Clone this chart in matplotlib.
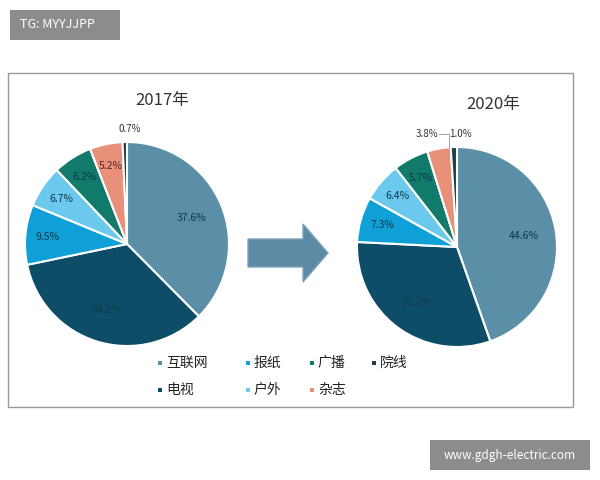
import numpy as np
import matplotlib.pyplot as plt
from matplotlib.patches import Rectangle, FancyArrow

plt.rcParams['font.family'] = ['Noto Sans CJK SC', 'DejaVu Sans']

categories = ['互联网', '电视', '报纸', '户外', '广播', '杂志', '院线']
share_2017 = [37.6, 34.2, 9.5, 6.7, 6.2, 5.2, 0.7]
share_2020 = [44.6, 31.2, 7.3, 6.4, 5.7, 3.8, 1.0]
colors = ['#5b8fa8', '#0e4d68', '#0ea0d6', '#6cc9ee', '#117a6a', '#e8907a', '#1d3d4a']

W, H = 600, 480
fig = plt.figure(figsize=(6, 4.8), dpi=100)
fig.patch.set_facecolor('white')

def fx(x): return x / W
def fy(y): return 1 - y / H

# frame
fig.patches.append(Rectangle((fx(8), fy(407)), fx(565), (407 - 73) / H, transform=fig.transFigure,
                             fill=False, ec='#999999', lw=1))

def draw_pie(cx, cy, r, vals, title, tx, ty, late_label):
    ax = fig.add_axes([fx(cx - r), fy(cy + r), 2 * r / W, 2 * r / H])
    ax.pie(vals, colors=colors, startangle=90, counterclock=False,
           wedgeprops=dict(edgecolor='white', linewidth=1.5))
    ax.set_aspect('auto')
    ax.set_xlim(-1, 1)
    ax.set_ylim(-1, 1)
    tot = sum(vals)
    ang = 90
    for i, v in enumerate(vals):
        mid = np.deg2rad(ang - v / tot * 360 / 2)
        ang -= v / tot * 360
        lab = f'{v:.1f}%'
        if i == 6:
            ax.text(0.03, 1.1, lab, ha='center', fontsize=7, color='#333333')
        elif i == 5 and late_label:
            ax.text(-0.3, 1.1, lab, ha='center', fontsize=7, color='#333333')
            ax.plot([-0.18, -0.08, -0.08], [1.13, 1.13, 0.99], color='#999999', lw=0.6, clip_on=False)
        else:
            d = 0.68 if i < 2 else 0.78
            c = '#0b3a50' if i != 5 else '#5a2a20'
            ax.text(d * np.cos(mid), d * np.sin(mid), lab, ha='center', va='center',
                    fontsize=7.5, color=c)
    fig.text(fx(tx), fy(ty), title, ha='center', va='center', fontsize=12, color='#333333')

draw_pie(127, 244, 102, share_2017, '2017年', 162, 100, False)
draw_pie(457, 247, 100, share_2020, '2020年', 493, 105, True)

# arrow
fig.patches.append(FancyArrow(fx(248), fy(253), fx(55), 0, width=28 / H, head_width=58 / H,
                              head_length=fx(25), length_includes_head=False,
                              transform=fig.transFigure, fc='#5d8aa5', ec='#7fa3b8'))

# legend
pos = [(158, 363), (158, 390), (246, 363), (246, 390), (310, 363), (310, 390), (372, 363)]
for (x, y), i in zip(pos, range(7)):
    fig.patches.append(Rectangle((fx(x), fy(y + 2)), 4 / W, 4 / H, transform=fig.transFigure,
                                 fc=colors[i], ec='none'))
    fig.text(fx(x + 8), fy(y), categories[i], va='center', fontsize=10, color='#222222')

# watermarks
fig.patches.append(Rectangle((fx(10), fy(40)), fx(110), 30 / H, transform=fig.transFigure,
                             fc='#8c8c8c', ec='none'))
fig.text(fx(20), fy(25), 'TG: MYYJJPP', va='center', fontsize=9, color='white')
fig.patches.append(Rectangle((fx(430), fy(470)), fx(160), 30 / H, transform=fig.transFigure,
                             fc='#8c8c8c', ec='none'))
fig.text(fx(510), fy(455), 'www.gdgh-electric.com', ha='center', va='center', fontsize=8.5, color='white')

fig.savefig('out.png', dpi=100)
